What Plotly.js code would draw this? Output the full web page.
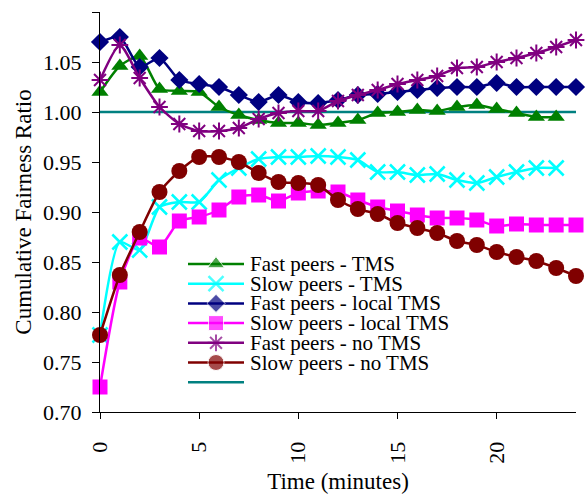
<!DOCTYPE html>
<html>
<head>
<meta charset="utf-8">
<script src="https://cdn.plot.ly/plotly-3.0.1.min.js"></script>
<style>html,body{margin:0;padding:0;background:#fff;}#chart{width:588px;height:497px;}</style>
</head>
<body>
<div id="chart"></div>
<script>
// Time (minutes)
const timeFull = [0,1,2,3,4,5,6,7,8,9,10,11,12,13,14,15,16,17,18,19,20,21,22,23,24];
const timeTMS  = [0,1,2,3,4,5,6,7,8,9,10,11,12,13,14,15,16,17,18,19,20,21,22,23];

const fastTMS = [1.020,1.046,1.056,1.023,1.021,1.020,1.005,0.997,0.992,0.989,0.989,0.987,0.989,0.992,0.999,1.000,1.002,1.001,1.005,1.007,1.003,0.999,0.995,0.995];
const slowTMS = [0.777,0.870,0.862,0.905,0.910,0.910,0.932,0.944,0.953,0.955,0.955,0.956,0.955,0.952,0.940,0.940,0.937,0.938,0.932,0.929,0.935,0.940,0.944,0.944];
const fastLocalTMS = [1.070,1.075,1.045,1.054,1.032,1.028,1.025,1.017,1.010,1.017,1.010,1.009,1.012,1.017,1.018,1.020,1.022,1.024,1.025,1.025,1.029,1.025,1.025,1.025,1.025];
const slowLocalTMS = [0.725,0.830,0.874,0.865,0.891,0.895,0.902,0.915,0.917,0.911,0.919,0.921,0.920,0.912,0.905,0.901,0.897,0.894,0.894,0.892,0.886,0.888,0.887,0.887,0.887];
const fastNoTMS = [1.032,1.067,1.034,1.005,0.988,0.981,0.981,0.984,0.993,0.999,1.001,1.001,1.011,1.017,1.022,1.028,1.032,1.036,1.044,1.045,1.050,1.054,1.059,1.065,1.072];
const slowNoTMS = [0.777,0.837,0.880,0.920,0.941,0.955,0.955,0.950,0.939,0.930,0.929,0.927,0.912,0.903,0.898,0.889,0.884,0.879,0.871,0.867,0.860,0.855,0.851,0.844,0.836];
const refX = [0,24];
const refY = [1.00,1.00];

const seriesNames = ["Fast peers - TMS","Slow peers - TMS","Fast peers - local TMS","Slow peers - local TMS","Fast peers - no TMS","Slow peers - no TMS",""];
const yTicks = [0.70,0.75,0.80,0.85,0.90,0.95,1.00,1.05,1.10];
const xTicks = [0,5,10,15,20];

const FONT = "Liberation Serif";
const styles = [
  {color:"#008000", symbol:"triangle-up", size:15},
  {color:"#00FFFF", symbol:"x-thin-open", size:15, lw:2.5},
  {color:"#000080", symbol:"diamond", size:14},
  {color:"#FF00FF", symbol:"square", size:15},
  {color:"#800080", symbol:"asterisk-open", size:14, lw:2},
  {color:"#800000", symbol:"circle", size:16},
  {color:"#008080", symbol:"line-ew-open", size:0}
];
const dataSets = [
  [timeTMS, fastTMS],[timeTMS, slowTMS],[timeFull, fastLocalTMS],[timeFull, slowLocalTMS],
  [timeFull, fastNoTMS],[timeFull, slowNoTMS],[refX, refY]
];

function mk(s){
  const m = {symbol:s.symbol, size:s.size, color:s.color};
  if (s.lw) m.line = {color:s.color, width:s.lw};
  return m;
}

const traces = [];
traces.push({x:refX, y:refY, mode:"lines", line:{color:"#008080", width:2.5}, showlegend:false, hoverinfo:"skip"});
[0,1,2,3,4,5].forEach(i=>{
  const s = styles[i];
  traces.push({
    x:dataSets[i][0], y:dataSets[i][1], name:seriesNames[i],
    mode:"lines+markers", line:{color:s.color, width:2.5, shape:"spline", smoothing:0.6},
    marker:mk(s), cliponaxis:false, showlegend:false
  });
});

// Hand-drawn legend on an overlay pixel-scaled axis pair
const W = 476, H = 400;
const legX0 = 88, legX1 = 144, legTextX = 148, legY0 = 252, legDy = 19.7;
const annotations = [];
seriesNames.forEach((nm,i)=>{
  const s = styles[i];
  const yy = legY0 + legDy*i;
  const xc = (legX0+legX1)/2;
  traces.push({
    x:[legX0, xc, legX1], y:[yy,yy,yy], xaxis:"x2", yaxis:"y2",
    mode: s.size ? "lines+markers" : "lines",
    line:{color:s.color, width:2.5},
    marker: Object.assign(mk(s), {size:[0, s.size, 0]}),
    showlegend:false, hoverinfo:"skip", cliponaxis:false
  });
  if (nm) annotations.push({
    x:legTextX, y:yy, xref:"x2", yref:"y2", text:nm, showarrow:false,
    xanchor:"left", yanchor:"middle", font:{family:FONT, size:21, color:"#000"}
  });
});

const layout = {
  width:588, height:497,
  margin:{l:100, r:12, t:12, b:85, pad:0},
  paper_bgcolor:"#fff", plot_bgcolor:"#fff",
  font:{family:FONT, color:"#000"},
  showlegend:false,
  xaxis:{
    range:[0,24], tickvals:xTicks, ticktext:xTicks.map(String), tickangle:-90,
    showgrid:false, zeroline:false, showline:true, linecolor:"#000", linewidth:1,
    ticks:"outside", ticklen:6, tickcolor:"#000", ticklabelstandoff:14,
    tickfont:{family:FONT, size:22, color:"#000"},
    title:{text:"Time (minutes)", font:{family:FONT, size:23, color:"#000"}, standoff:10}
  },
  yaxis:{
    range:[0.70,1.10], tickvals:yTicks, ticktext:yTicks.map(v=>v.toFixed(2)),
    showgrid:false, zeroline:false, showline:true, linecolor:"#000", linewidth:1,
    ticks:"outside", ticklen:7, tickcolor:"#000", ticklabelstandoff:6,
    tickfont:{family:FONT, size:22, color:"#000"},
    title:{text:"Cumulative Fairness Ratio", font:{family:FONT, size:23, color:"#000"}, standoff:5}
  },
  xaxis2:{overlaying:"x", anchor:"y2", range:[0,W], visible:false, fixedrange:true},
  yaxis2:{overlaying:"y", anchor:"x2", range:[H,0], visible:false, fixedrange:true},
  annotations:annotations
};

Plotly.newPlot("chart", traces, layout, {displayModeBar:false, staticPlot:true});
</script>
</body>
</html>
